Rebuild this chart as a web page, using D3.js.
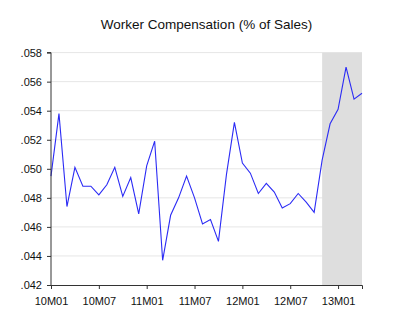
<!DOCTYPE html>
<html>
<head>
<meta charset="utf-8">
<script src="https://cdn.jsdelivr.net/npm/d3@7"></script>
<style>
  html, body { margin: 0; padding: 0; background: #fff; }
  svg { display: block; font-family: "Liberation Sans", Arial, sans-serif; }
</style>
</head>
<body>
<svg id="chart" width="400" height="326"></svg>
<script>
// Monthly periods, 2010M01 .. 2013M04
const months = [
  "10M01","10M02","10M03","10M04","10M05","10M06","10M07","10M08","10M09","10M10","10M11","10M12",
  "11M01","11M02","11M03","11M04","11M05","11M06","11M07","11M08","11M09","11M10","11M11","11M12",
  "12M01","12M02","12M03","12M04","12M05","12M06","12M07","12M08","12M09","12M10","12M11","12M12",
  "13M01","13M02","13M03","13M04"
];

// Worker compensation as a share of sales
const compensation = [
  0.0495, 0.0538, 0.0474, 0.0501, 0.0488, 0.0488, 0.0482, 0.0489, 0.0501, 0.0481, 0.0494, 0.0469,
  0.0502, 0.0519, 0.0437, 0.0468, 0.0480, 0.0495, 0.0480, 0.0462, 0.0465, 0.0450, 0.0496, 0.0532,
  0.0504, 0.0497, 0.0483, 0.0490, 0.0484, 0.0473, 0.0476, 0.0483, 0.0477, 0.0470, 0.0506, 0.0531,
  0.0541, 0.0570, 0.0548, 0.0552
];

// Forecast window shown with a grey band
const shadeStart = "12M11";
const shadeEnd = "13M04";

const yTicks = [0.042, 0.044, 0.046, 0.048, 0.050, 0.052, 0.054, 0.056, 0.058];
const xTicks = ["10M01", "10M07", "11M01", "11M07", "12M01", "12M07", "13M01"];

const svg = d3.select("#chart");
const plotLeft = 51, plotRight = 362, plotTop = 52.6, plotBottom = 285;

const x = d3.scaleLinear().domain([0, months.length - 1]).range([plotLeft, plotRight]);
const y = d3.scaleLinear().domain([0.042, 0.058]).range([plotBottom, plotTop]);

// Horizontal grid
svg.append("g")
  .selectAll("line")
  .data(yTicks.slice(1))
  .join("line")
  .attr("x1", plotLeft).attr("x2", plotRight)
  .attr("y1", d => y(d)).attr("y2", d => y(d))
  .attr("stroke", "#e6e6e6")
  .attr("stroke-width", 1);

// Shaded band
const i0 = months.indexOf(shadeStart), i1 = months.indexOf(shadeEnd);
svg.append("rect")
  .attr("x", x(i0)).attr("y", plotTop)
  .attr("width", x(i1) - x(i0)).attr("height", plotBottom - plotTop)
  .attr("fill", "#dedede");

// Series line
const line = d3.line()
  .x((d, i) => x(i))
  .y(d => y(d));

svg.append("path")
  .datum(compensation)
  .attr("d", line)
  .attr("fill", "none")
  .attr("stroke", "#2b2bf5")
  .attr("stroke-width", 1.1)
  .attr("stroke-linejoin", "miter");

// Axes
const fmt = d => d3.format(".3f")(d).replace(/^0/, "");
const yAxis = d3.axisLeft(y).tickValues(yTicks).tickFormat(fmt).tickSize(4).tickPadding(5);
const xAxis = d3.axisBottom(x)
  .tickValues(xTicks.map(m => months.indexOf(m)))
  .tickFormat(i => months[i])
  .tickSize(4).tickPadding(8);

const gy = svg.append("g").attr("transform", `translate(${plotLeft},0)`).call(yAxis);
const gx = svg.append("g").attr("transform", `translate(0,${plotBottom})`).call(xAxis);

[gx, gy].forEach(g => {
  g.select(".domain").attr("stroke", "#333").attr("stroke-width", 1);
  g.selectAll(".tick line").attr("stroke", "#333");
  g.selectAll(".tick text").attr("fill", "#111").style("font-size", "11px");
});
gy.select(".domain").attr("d", `M-4,${plotTop}H0V${plotBottom}`);

// Title
svg.append("text")
  .attr("x", (plotLeft + plotRight) / 2)
  .attr("y", 29)
  .attr("text-anchor", "middle")
  .attr("fill", "#111")
  .style("font-size", "13.5px")
  .text("Worker Compensation (% of Sales)");
</script>
</body>
</html>
